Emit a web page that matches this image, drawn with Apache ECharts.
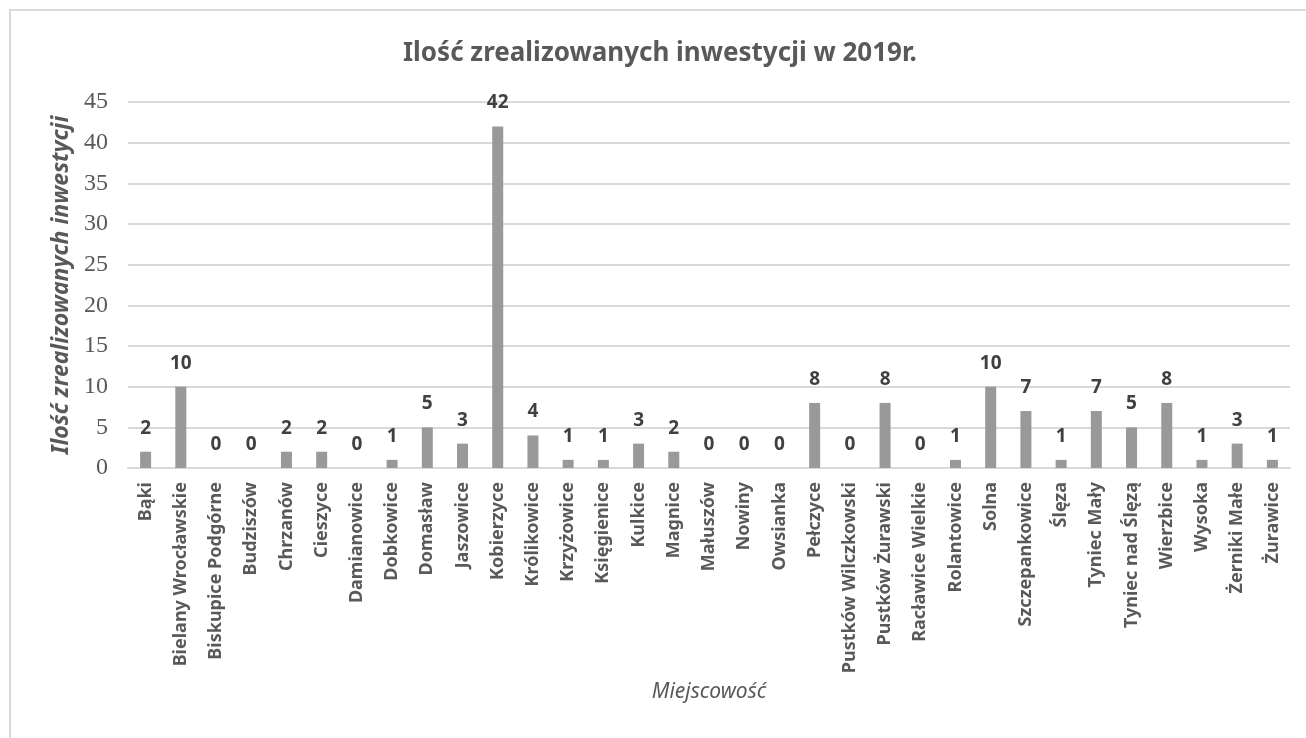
<!DOCTYPE html>
<html>
<head>
<meta charset="utf-8">
<script src="https://cdn.jsdelivr.net/npm/echarts@6/dist/echarts.min.js"></script>
<style>
  html, body { margin: 0; padding: 0; background: #fff; }
  #chart { width: 1306px; height: 738px; }
</style>
</head>
<body>
<div id="chart"></div>
<script>
// miejscowości
const places = [
    'Bąki', 'Bielany Wrocławskie', 'Biskupice Podgórne', 'Budziszów', 'Chrzanów',
    'Cieszyce', 'Damianowice', 'Dobkowice', 'Domasław', 'Jaszowice',
    'Kobierzyce', 'Królikowice', 'Krzyżowice', 'Księgienice', 'Kulkice',
    'Magnice', 'Małuszów', 'Nowiny', 'Owsianka', 'Pełczyce',
    'Pustków Wilczkowski', 'Pustków Żurawski', 'Racławice Wielkie', 'Rolantowice', 'Solna',
    'Szczepankowice', 'Ślęza', 'Tyniec Mały', 'Tyniec nad Ślęzą', 'Wierzbice',
    'Wysoka', 'Żerniki Małe', 'Żurawice'
]
// ilość inwestycji
const investments = [
    2, 10, 0, 0, 2,
    2, 0, 1, 5, 3,
    42, 4, 1, 1, 3,
    2, 0, 0, 0, 8,
    0, 8, 0, 1, 10,
    7, 1, 7, 5, 8,
    1, 3, 1
]
const yMin = 0
const yMax = 45
const yStep = 5

const font = '"Noto Sans", "DejaVu Sans", sans-serif'

function addChart(dom, option) {
    let myChart = echarts.init(dom);
    myChart.setOption(option);
    return myChart;
}

const option = {
    animation: false,
    backgroundColor: '#fff',
    title: {
        text: 'Ilość zrealizowanych inwestycji w 2019r.',
        left: 398,
        top: 36,
        textStyle: {
            fontFamily: font,
            fontSize: 26,
            fontWeight: 'bold',
            color: '#595959'
        }
    },
    graphic: [{
        type: 'rect',
        shape: { x: 10, y: 10, width: 1320, height: 760 },
        style: { fill: 'none', stroke: '#d9d9d9', lineWidth: 2 },
        silent: true
    }],
    grid: {
        left: 128,
        right: 16,
        top: 102,
        bottom: 270
    },
    xAxis: {
        type: 'category',
        data: places,
        name: 'Miejscowość',
        nameLocation: 'middle',
        nameGap: 214,
        nameTextStyle: {
            fontFamily: font,
            fontSize: 21,
            fontStyle: 'italic',
            color: '#595959'
        },
        axisLine: { lineStyle: { color: '#d9d9d9', width: 2 } },
        axisTick: { show: false },
        axisLabel: {
            rotate: 90,
            interval: 0,
            margin: 14,
            fontFamily: font,
            fontSize: 18,
            fontWeight: 'bold',
            color: '#595959'
        }
    },
    yAxis: {
        type: 'value',
        min: yMin,
        max: yMax,
        interval: yStep,
        name: 'Ilość zrealizowanych inwestycji',
        nameLocation: 'middle',
        nameGap: 54,
        nameTextStyle: {
            fontFamily: font,
            fontSize: 23,
            fontStyle: 'italic',
            fontWeight: 'bold',
            color: '#595959'
        },
        axisLine: { show: false },
        axisTick: { show: false },
        axisLabel: {
            margin: 20,
            fontFamily: '"Liberation Serif", "DejaVu Serif", serif',
            fontSize: 24,
            color: '#595959'
        },
        splitLine: { lineStyle: { color: '#d9d9d9', width: 2 } }
    },
    series: [{
        type: 'bar',
        data: investments,
        barWidth: 11,
        itemStyle: { color: '#999999' },
        label: {
            show: true,
            position: 'top',
            distance: 14,
            fontFamily: font,
            fontSize: 19,
            fontWeight: 'bold',
            color: '#404040'
        }
    }]
}

addChart(document.getElementById('chart'), option)
</script>
</body>
</html>
